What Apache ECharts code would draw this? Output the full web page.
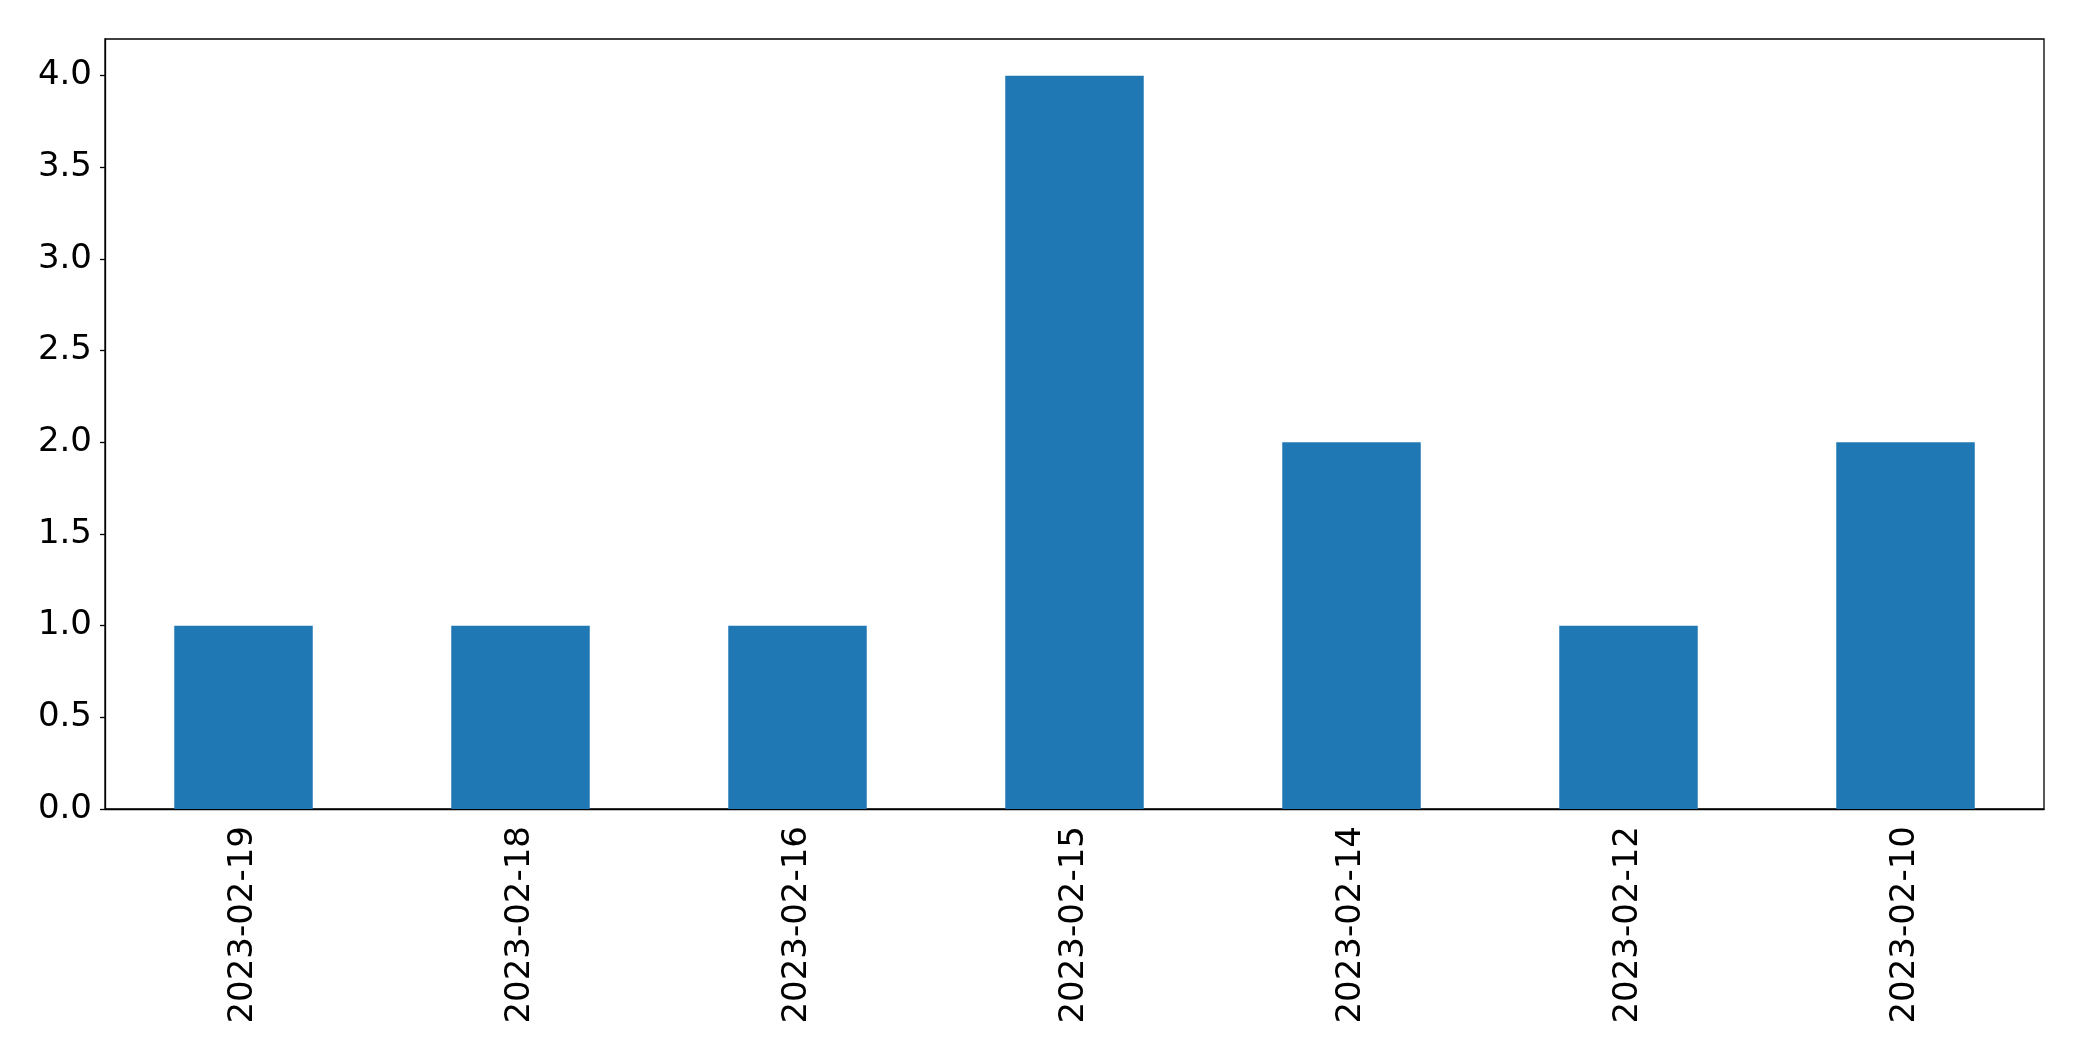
<!DOCTYPE html>
<html>
<head>
<meta charset="utf-8">
<script src="https://cdn.jsdelivr.net/npm/echarts@6/dist/echarts.min.js"></script>
<style>
html,body{margin:0;padding:0;background:#fff;}
#chart{width:2082px;height:1061px;}
</style>
</head>
<body>
<div id="chart"></div>
<script>
const categories = ["2023-02-19","2023-02-18","2023-02-16","2023-02-15","2023-02-14","2023-02-12","2023-02-10"];
const values = [1, 1, 1, 4, 2, 1, 2];
const yTicks = [0, 0.5, 1, 1.5, 2, 2.5, 3, 3.5, 4];

const chart = echarts.init(document.getElementById('chart'));
chart.setOption({
  animation: false,
  backgroundColor: '#ffffff',
  grid: {
    left: 105, top: 39, right: 38, bottom: 252,
    show: true, borderColor: '#000', borderWidth: 1.3, backgroundColor: 'transparent'
  },
  xAxis: {
    type: 'category',
    data: categories,
    boundaryGap: true,
    axisLine: {lineStyle: {color: '#000', width: 1.3}},
    axisTick: {alignWithLabel: true, length: 5, lineStyle: {color: '#000', width: 1.3}},
    axisLabel: {rotate: 90, fontSize: 34, color: '#000', fontFamily: 'DejaVu Sans', margin: 17, interval: 0},
    splitLine: {show: false}
  },
  yAxis: {
    type: 'value',
    min: 0, max: 4.2, interval: 0.5,
    axisLine: {show: true, lineStyle: {color: '#000', width: 1.3}},
    axisTick: {show: true, length: 5, customValues: yTicks, lineStyle: {color: '#000', width: 1.3}},
    axisLabel: {
      fontSize: 34, color: '#000', fontFamily: 'DejaVu Sans', margin: 13,
      customValues: yTicks,
      formatter: function (v) { return v.toFixed(1); }
    },
    splitLine: {show: false}
  },
  series: [{
    type: 'bar',
    data: values,
    barWidth: '50%',
    itemStyle: {color: '#1f77b4'}
  }]
});
</script>
</body>
</html>
